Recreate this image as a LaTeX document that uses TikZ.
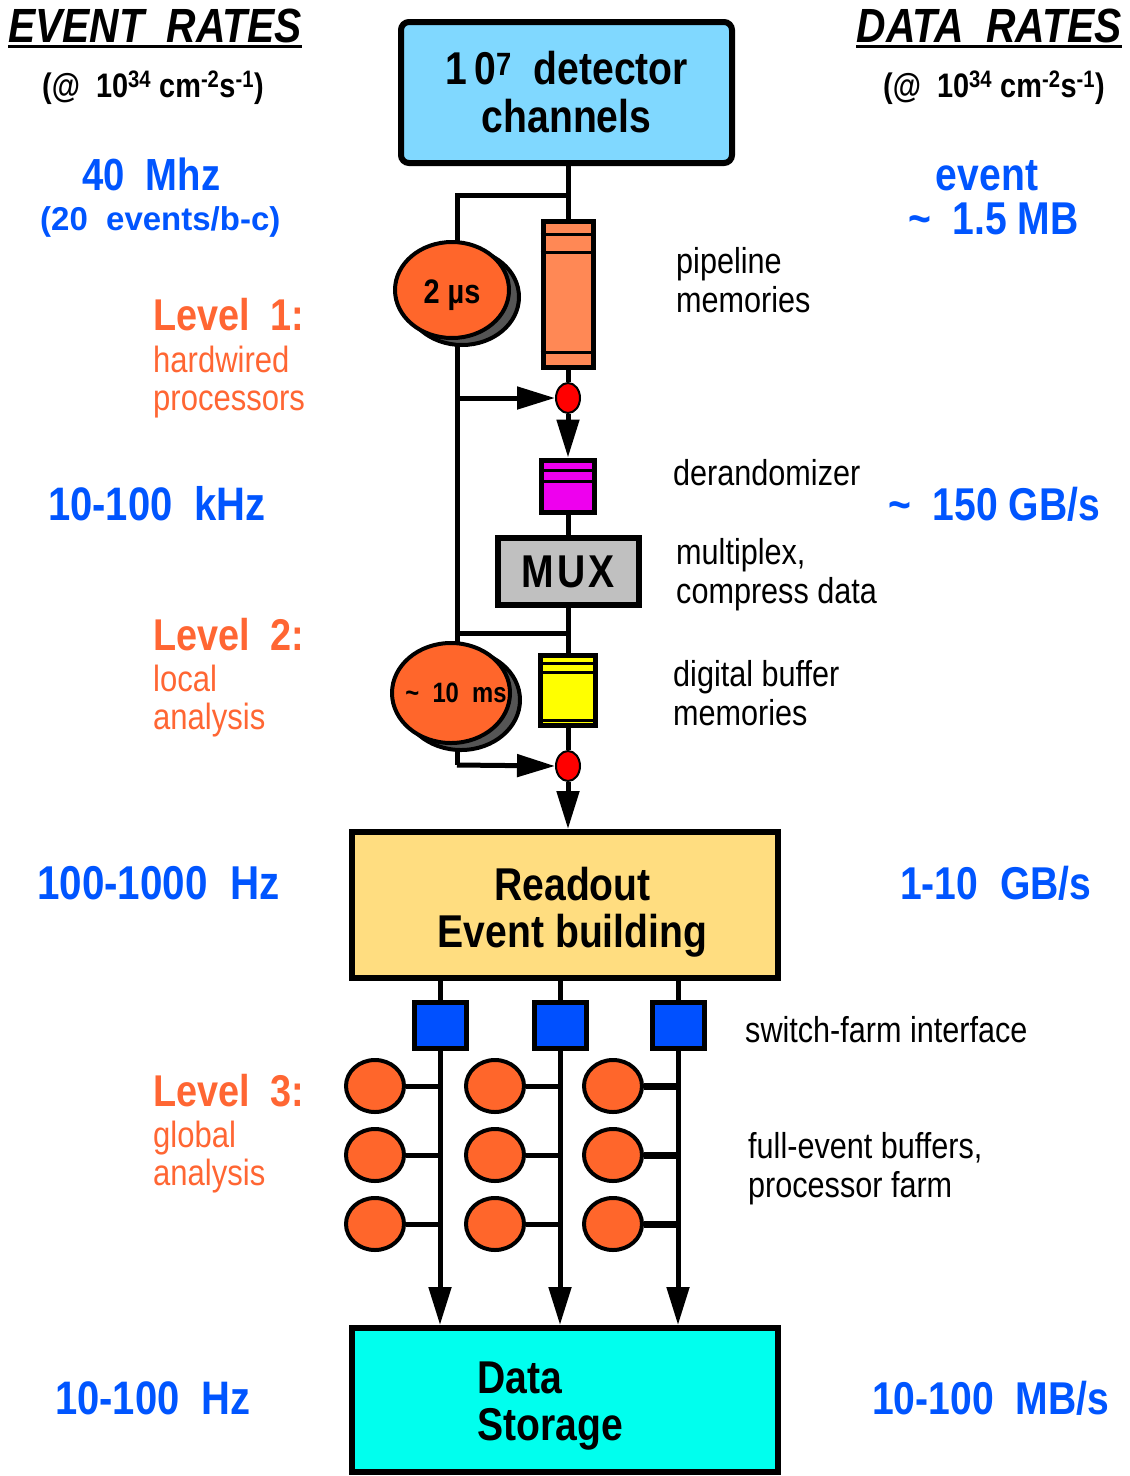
\documentclass[tikz,border=0pt]{standalone}
\usepackage{fontspec}
\setmainfont{Liberation Sans}[FakeStretch=0.85]
\newfontfamily\widesf{Liberation Sans}
\usetikzlibrary{arrows.meta,shapes.geometric,shadows}

\definecolor{rateblue}{RGB}{0,85,255}
\definecolor{lvlorange}{RGB}{255,102,51}
\definecolor{detblue}{RGB}{128,216,255}
\definecolor{pipeorange}{RGB}{255,136,85}
\definecolor{bufforange}{RGB}{255,102,43}
\definecolor{derandmag}{RGB}{238,0,238}
\definecolor{muxgray}{RGB}{192,192,192}
\definecolor{bufyellow}{RGB}{255,255,0}
\definecolor{readfill}{RGB}{255,221,128}
\definecolor{storecyan}{RGB}{0,255,238}
\definecolor{sfiblue}{RGB}{0,80,255}
\definecolor{shadowgray}{RGB}{85,85,85}

\newcommand\fsz[2]{\fontsize{#1}{#2}\selectfont}

\tikzset{
  every node/.style={inner sep=0pt},
  wire/.style={line width=5pt},
  arr/.style={wire,-{Triangle[length=38pt,width=22pt]}},
  box/.style={draw,rectangle,line width=6pt},
  boxtext/.style={font=\fsz{46}{47}\bfseries,align=center},
  slot/.style={line width=2.5pt},
  dot/.style={ellipse,draw,line width=2pt,fill=red,minimum width=24,minimum height=30},
  buf/.style={ellipse,draw,line width=4pt,fill=bufforange,
    copy shadow={shadow xshift=10pt,shadow yshift=-7pt,fill=shadowgray}},
  cpu/.style={ellipse,draw,line width=4pt,fill=bufforange,minimum width=58,minimum height=52},
  sfi/.style={box,line width=5pt,fill=sfiblue,minimum width=52,minimum height=46},
  head/.style={font=\fsz{48}{50}\bfseries\itshape},
  lumi/.style={font=\fsz{34}{36}\bfseries},
  rate/.style={text=rateblue,font=\fsz{46}{50}\bfseries},
  lvl/.style={text=lvlorange,font=\fsz{44.5}{50}\bfseries},
  lvlsub/.style={text=lvlorange,font=\fsz{36.5}{38},align=left},
  note/.style={font=\fsz{36}{39},align=left},
}

\begin{document}
\begin{tikzpicture}[x=1pt,y=-1pt]
\useasboundingbox (0,0) rectangle (1130,1476);
\fill[white] (0,0) rectangle (1130,1476);

% column headers
\node[head,anchor=base west] (evhead) at (8,42) {EVENT~~RATES};
\draw[line width=3pt] ([yshift=-4pt]evhead.base west) -- ([yshift=-4pt]evhead.base east);
\node[head,anchor=base east] (dthead) at (1122,42) {DATA~~RATES};
\draw[line width=3pt] ([yshift=-4pt]dthead.base west) -- ([yshift=-4pt]dthead.base east);
\node[lumi,anchor=base west] (evlumi) at (42,97) {(@~~10\textsuperscript{34}~cm\textsuperscript{-2}s\textsuperscript{-1})};
\node[lumi,anchor=base west] (dtlumi) at (883,97) {(@~~10\textsuperscript{34}~cm\textsuperscript{-2}s\textsuperscript{-1})};

% event rates
\node[rate,anchor=base west,font=\fsz{45}{50}\bfseries] (r40) at (82,190) {40~~Mhz};
\node[rate,anchor=base west,font=\widesf\fsz{33}{36}\bfseries] (rbc) at (40,230) {(20~~events/b-c)};
\node[rate,anchor=base west,font=\fsz{47}{50}\bfseries] (rl1) at (48,520) {10-100~~kHz};
\node[rate,anchor=base west,font=\fsz{47.5}{50}\bfseries] (rl2) at (37,899) {100-1000~~Hz};
\node[rate,anchor=base west,font=\fsz{47}{50}\bfseries] (rl3) at (55,1414) {10-100~~Hz};

% trigger levels
\node[lvl,anchor=base west] (lvl1) at (153,330) {Level~~1:};
\node[lvlsub,anchor=west] (lvl1txt) at (153,382) {hardwired\\processors};
\node[lvl,anchor=base west] (lvl2) at (153,650) {Level~~2:};
\node[lvlsub,anchor=west] (lvl2txt) at (153,701) {local\\analysis};
\node[lvl,anchor=base west] (lvl3) at (153,1106) {Level~~3:};
\node[lvlsub,anchor=west] (lvl3txt) at (153,1157) {global\\analysis};

% data rates
\node[rate,anchor=base] (devt) at (987,190) {event};
\node[rate,anchor=base west] (dmb) at (908,234) {\textasciitilde~~1.5 MB};
\node[rate,anchor=base west] (dl1) at (888,520) {\textasciitilde~~150 GB/s};
\node[rate,anchor=base west] (dl2) at (900,899) {1-10~~GB/s};
\node[rate,anchor=base west] (dl3) at (872,1414) {10-100~~MB/s};

% descriptions
\node[note,anchor=west] (npipe) at (676,280) {pipeline\\memories};
\node[note,anchor=base west] (nder) at (673,485) {derandomizer};
\node[note,anchor=west] (nmux) at (676,575) {multiplex,\\compress data};
\node[note,anchor=west] (nbuf) at (673,693) {digital buffer\\memories};
\node[note,anchor=base west] (nsfi) at (745,1042) {switch-farm interface};
\node[note,anchor=west] (nfarm) at (748,1169) {full-event buffers,\\processor farm};

% readout chain
\node[box,fill=detblue,rounded corners=8pt,minimum width=331,minimum height=141,boxtext,font=\fsz{46}{48}\bfseries] (det) at (566.5,92.5) {1\,0\textsuperscript{7}~~detector\\channels};
\node[box,line width=5pt,fill=pipeorange,minimum width=50,minimum height=146] (pipe) at (568,294) {};
\draw[slot] ([yshift=-16pt]pipe.north west) -- ([yshift=-16pt]pipe.north east);
\draw[slot] ([yshift=-34pt]pipe.north west) -- ([yshift=-34pt]pipe.north east);
\draw[slot] ([yshift=17pt]pipe.south west) -- ([yshift=17pt]pipe.south east);
\node[dot] (dot1) at (568,398) {};
\node[box,line width=5pt,fill=derandmag,minimum width=53,minimum height=52] (derand) at (568,486) {};
\draw[slot] ([yshift=-13pt]derand.north west) -- ([yshift=-13pt]derand.north east);
\draw[slot] ([yshift=-24pt]derand.north west) -- ([yshift=-24pt]derand.north east);
\node[box,fill=muxgray,minimum width=141,minimum height=67,boxtext] (mux) at (568,571.5) {M\kern3pt U\kern3pt X};
\node[box,line width=5pt,fill=bufyellow,minimum width=55,minimum height=70] (dbuf) at (568,690) {};
\draw[slot] ([yshift=-11pt]dbuf.north west) -- ([yshift=-11pt]dbuf.north east);
\draw[slot] ([yshift=-20pt]dbuf.north west) -- ([yshift=-20pt]dbuf.north east);
\draw[slot] ([yshift=7pt]dbuf.south west) -- ([yshift=7pt]dbuf.south east);
\node[dot] (dot2) at (568,766) {};
\node[box,fill=readfill,minimum width=426,minimum height=146,
  label={[boxtext,xshift=8pt,yshift=-7pt]center:Readout\\Event building}] (readout) at (564.5,905) {};
\node[box,fill=storecyan,minimum width=426,minimum height=144] (store) at (564.5,1400) {};
\node[boxtext,align=left,anchor=west] (storetxt) at (477,1406) {Data\\Storage};

% trigger bypass
\coordinate (split) at (568,195);
\coordinate (tapA) at (457,398);
\coordinate (tapB) at (457,633);
\coordinate (tapC) at (457,765);
\draw[wire] (det.south -| pipe.north) -- (pipe.north);
\draw[wire] (split) -| (tapC);
\draw[arr] (tapA) -- (dot1.west);
\draw[wire] (pipe.south) -- (dot1.north);
\draw[arr] (dot1.south) -- (derand.north);
\draw[wire] (derand.south) -- (mux.north);
\draw[wire] (mux.south) -- (dbuf.north);
\draw[wire] (tapB) -- (tapB -| mux.south);
\draw[wire] (dbuf.south) -- (dot2.north);
\draw[arr] (tapC) -- (dot2.west);
\draw[arr] (dot2.south) -- (dot2.south |- readout.north);

\node[buf,minimum width=114,minimum height=96,
  label={[font=\fsz{34}{36}\bfseries,yshift=-5pt]center:2 µs}] (l1buf) at (452,290) {};
\node[buf,minimum width=118,minimum height=100,
  label={[font=\fsz{28}{30}\bfseries,xshift=5pt]center:\textasciitilde~~10~~ms}] (l2buf) at (451,693) {};

% event builder and farm
\foreach \cx/\sw [count=\k] in {440/5,560/5,678/7}{
  \coordinate (col\k) at (\cx,1000);
  \draw[arr] (readout.south -| col\k) -- (store.north -| col\k);
  \node[sfi] (sfi\k) at (\cx,1025) {};
  \foreach \ry [count=\j] in {1086,1155,1224}{
    \node[cpu] (cpu\k\j) at ({\cx-65},\ry) {};
    \draw[line width=\sw pt] (cpu\k\j.east) -- (cpu\k\j.east -| col\k);
  }
}
\end{tikzpicture}
\end{document}
